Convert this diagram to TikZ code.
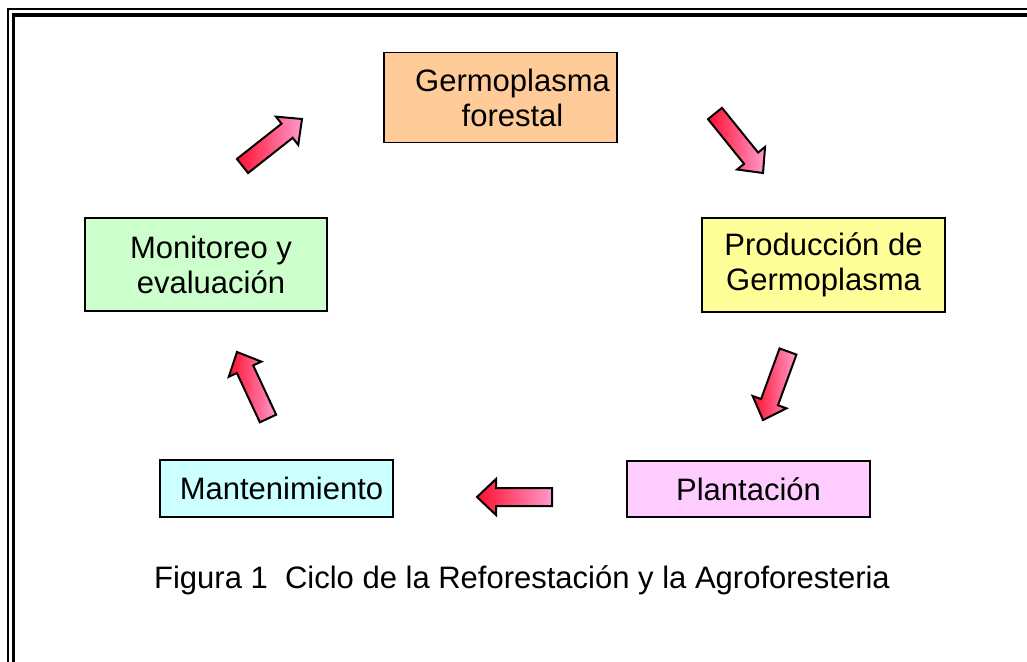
\documentclass[tikz,border=0pt]{standalone}
\usepackage{fontspec}
\setmainfont{Liberation Sans}
\usetikzlibrary{calc,shadings}

\definecolor{cajaNaranja}{HTML}{FFCC99}
\definecolor{cajaAmarilla}{HTML}{FFFF99}
\definecolor{cajaRosa}{HTML}{FFCCFF}
\definecolor{cajaCian}{HTML}{CCFFFF}
\definecolor{cajaVerde}{HTML}{CCFFCC}
\definecolor{flechaRoja}{HTML}{FF1030}
\definecolor{flechaRosa}{HTML}{FF9ACC}

% block arrow from tail #1 to tip #2
\newcommand{\flecha}[2]{%
  \coordinate (fh) at ($(#2)!9.5pt!(#1)$);
  \shadedraw[flecha] ($(#1)!4.5pt!90:(#2)$) -- ($(fh)!4.5pt!-90:(#1)$)
    -- ($(fh)!9pt!-90:(#1)$) -- (#2) -- ($(fh)!9pt!90:(#1)$)
    -- ($(fh)!4.5pt!90:(#1)$) -- ($(#1)!4.5pt!-90:(#2)$) -- cycle;
}

\begin{document}
\begin{tikzpicture}[x=0.5pt,y=-0.5pt,
    caja/.style={draw,line width=0.75pt,rectangle,inner sep=0pt,align=center,
      font=\fontsize{15.5}{17.5}\selectfont},
    flecha/.style={draw=black,line width=1pt,line join=miter,
      left color=flechaRoja,right color=flechaRosa}
  ]
    \useasboundingbox (0,0) rectangle (1027,662);

    % Frame
    \draw[line width=1pt] (8,9.5) rectangle (1045,690);
    \draw[line width=1.6pt] (13.5,15) rectangle (1040,685);

    % Boxes of the cycle
    \node[caja,fill=cajaNaranja,minimum width=116.5pt,minimum height=45pt] (germ) at (500.5,97.5) {\hspace*{12pt}Germoplasma\\\hspace*{12pt}forestal};
    \node[caja,fill=cajaAmarilla,minimum width=121.5pt,minimum height=47pt] (prod) at (823.5,265) {Producción de\\Germoplasma};
    \node[caja,fill=cajaRosa,minimum width=121.5pt,minimum height=28pt] (plan) at (748.5,489) {Plantación};
    \node[caja,fill=cajaCian,minimum width=116.5pt,minimum height=28.5pt] (mant) at (276.5,488.5) {\hspace*{5pt}Mantenimiento};
    \node[caja,fill=cajaVerde,minimum width=121pt,minimum height=46.5pt] (moni) at (206,264.5) {\hspace*{5pt}Monitoreo y\\\hspace*{5pt}evaluación};

    % Caption
    \node[font=\fontsize{15.5}{17.5}\selectfont] (pie) at (522,580) {Figura 1\ \ Ciclo de la Reforestación y la Agroforesteria};

    % Arrows between the boxes
    \coordinate (moni-germ-a) at (242.5,166);
    \coordinate (moni-germ-b) at (302,119);
    \coordinate (germ-prod-a) at (715,113.5);
    \coordinate (germ-prod-b) at (763,173);
    \coordinate (prod-plan-a) at (788,351.5);
    \coordinate (prod-plan-b) at (763,420);
    \coordinate (plan-mant-a) at (552,497);
    \coordinate (plan-mant-b) at (477,497);
    \coordinate (mant-moni-a) at (268,418.5);
    \coordinate (mant-moni-b) at (237,352);

    \flecha{moni-germ-a}{moni-germ-b}
    \flecha{germ-prod-a}{germ-prod-b}
    \flecha{prod-plan-a}{prod-plan-b}
    \flecha{plan-mant-a}{plan-mant-b}
    \flecha{mant-moni-a}{mant-moni-b}
  \end{tikzpicture}
\end{document}
